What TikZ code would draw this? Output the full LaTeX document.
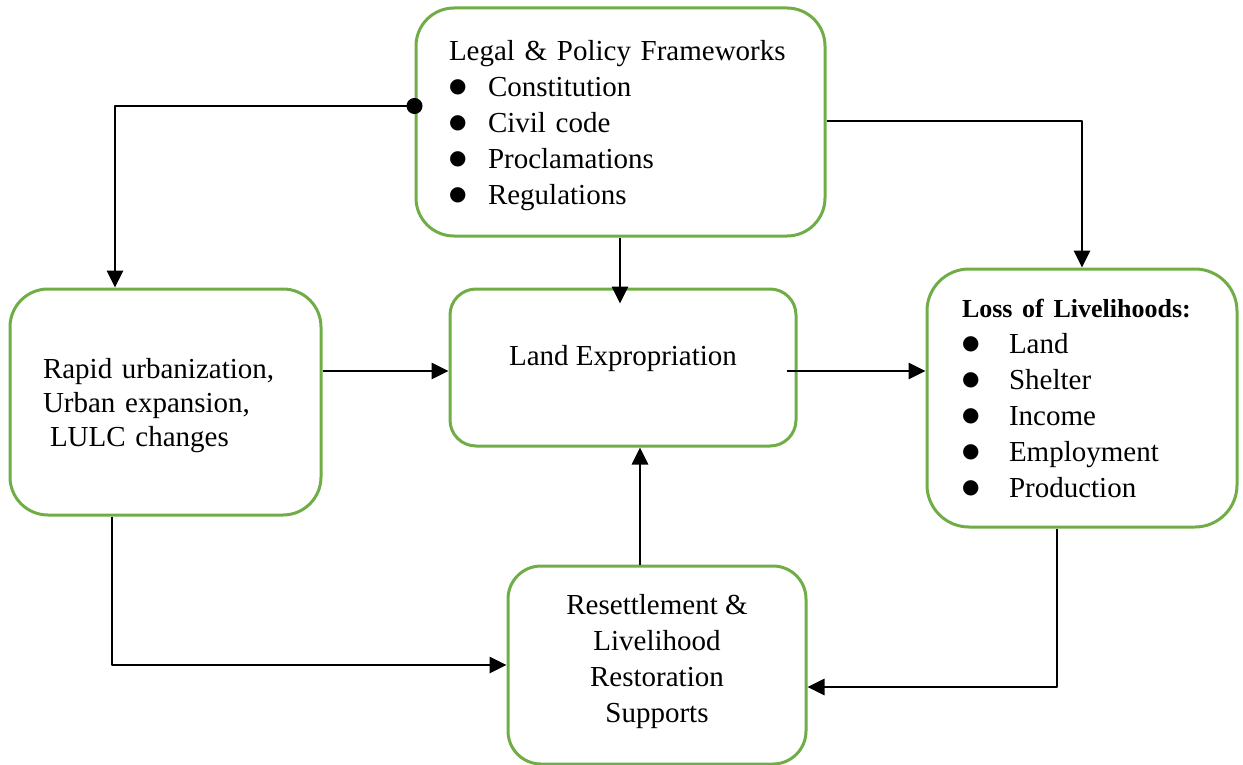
\documentclass[tikz,border=0pt]{standalone}
\usepackage{fontspec}
\setmainfont{Liberation Serif}
\newfontfamily\symfont{DejaVu Sans}
\usetikzlibrary{arrows.meta}
\definecolor{boxgreen}{HTML}{70AD47}
\tikzset{
	box/.style={draw=boxgreen,line width=3pt,rounded corners=#1,inner sep=0pt,align=center},
	box/.default=38pt,
	link/.style={line width=2.8pt,-{Triangle[length=17pt,width=16pt]}},
	dotlink/.style={link,{Circle[length=16pt]}-{Triangle[length=17pt,width=16pt]},shorten <=-8pt},
}
\newcommand{\blt}[2]{\makebox[#1][l]{\raisebox{4pt}{\symfont\fontsize{20}{20}\selectfont ●}}#2}
\begin{document}
\begin{tikzpicture}[x=1pt,y=-1pt,line join=round,font=\fontsize{29}{36}\selectfont]
	\useasboundingbox (0,0) rectangle (1243,765);
	% boxes
	\node[box,minimum width=409pt,minimum height=228pt,text width=343pt,align=left] (legal) at (620.5,122)
		{\raisebox{-3pt}[\height][\depth]{\begin{tabular}{@{}l@{}}Legal \& Policy Frameworks\\ \blt{39pt}{Constitution}\\ \blt{39pt}{Civil code}\\ \blt{39pt}{Proclamations}\\ \blt{39pt}{Regulations}\end{tabular}}};
	\node[box=26pt,minimum width=346pt,minimum height=157pt] (land) at (623,367.5)
		{\raisebox{9pt}[\height][\depth]{Land Expropriation}};
	\node[box,minimum width=311pt,minimum height=226pt,text width=245pt,align=left,
		font=\fontsize{29}{34}\selectfont] (rapid) at (165.5,402)
		{\raisebox{-4pt}[\height][\depth]{\begin{tabular}{@{}l@{}}Rapid urbanization,\\ Urban expansion,\\ \hspace{7pt}LULC changes\end{tabular}}};
	\node[box=42pt,minimum width=310pt,minimum height=258pt,text width=240pt,align=left] (loss) at (1082,398)
		{{\fontsize{26}{36}\selectfont\bfseries Loss of Livelihoods:}\\ \blt{47pt}{Land}\\ \blt{47pt}{Shelter}\\ \blt{47pt}{Income}\\ \blt{47pt}{Employment}\\ \blt{47pt}{Production}};
	\node[box=33pt,minimum width=298pt,minimum height=198pt] (resettle) at (657,665)
		{\raisebox{4pt}[\height][\depth]{\begin{tabular}{@{}c@{}}Resettlement \&\\ Livelihood\\ Restoration\\ Supports\end{tabular}}};
	% connectors
	\draw[dotlink] ([yshift=16pt]legal.west) -| ([xshift=-50.5pt]rapid.north);
	\draw[link,shorten >=-16pt] ([xshift=-0.5pt]legal.south) -- ([xshift=-0.5pt]legal.south |- land.north);
	\draw[link] ([yshift=1pt]legal.east) -| (loss.north);
	\draw[link] ([yshift=31pt]rapid.east) -- ([yshift=31pt]rapid.east -| land.west);
	\draw[link] ([xshift=-11pt,yshift=-3.5pt]land.east) -- ([yshift=-3.5pt]land.east -| loss.west);
	\draw[link] ([xshift=-53.5pt]rapid.south) |- (resettle.west);
	\draw[link] ([xshift=-17pt]resettle.north) -- ([xshift=-17pt]resettle.north |- land.south);
	\draw[link] ([xshift=-25pt]loss.south) |- ([yshift=-22pt]resettle.east);
\end{tikzpicture}
\end{document}
